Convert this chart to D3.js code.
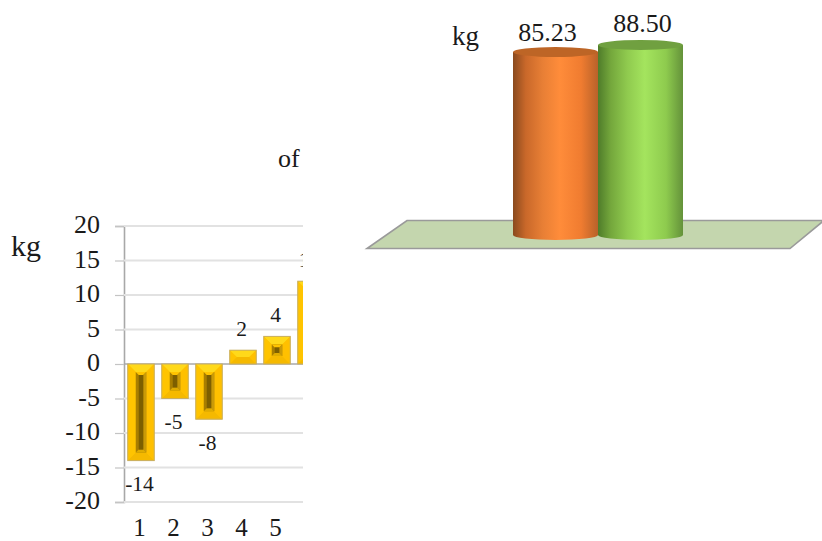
<!DOCTYPE html>
<html>
<head>
<meta charset="utf-8">
<script src="https://cdn.jsdelivr.net/npm/d3@7/dist/d3.min.js"></script>
<style>
html, body { margin: 0; padding: 0; background: #fff; }
svg { display: block; }
text { font-family: "Liberation Serif", "Times New Roman", serif; fill: #1a1a1a; }
</style>
</head>
<body>
<svg id="chart" width="822" height="541"></svg>
<script>
// Weight change per subject (kg)
const subjects = ["1", "2", "3", "4", "5", "6"];
const changes = [-14, -5, -8, 2, 4, 12];
const changeTicks = [-20, -15, -10, -5, 0, 5, 10, 15, 20];

// Mean weight per group (kg)
const groups = ["Before", "After"];
const means = [85.23, 88.5];

const svg = d3.select("#chart");
const defs = svg.append("defs");

// ---------- Bevelled bar chart, cut off at its right edge ----------
defs.append("clipPath").attr("id", "panelClip")
  .append("rect").attr("x", 0).attr("y", 200).attr("width", 303).attr("height", 341);

const y = d3.scaleLinear().domain([-20, 20]).range([502, 226]);
const x = d3.scaleBand().domain(subjects)
  .range([124, 124 + 34 * subjects.length])
  .paddingInner(0.22).paddingOuter(0.11);

const panel = svg.append("g").attr("clip-path", "url(#panelClip)");

const yAxis = d3.axisLeft(y).tickValues(changeTicks).tickSize(9).tickPadding(6).tickFormat(d => String(d));
const yG = panel.append("g").attr("transform", "translate(124,0)").call(yAxis);
yG.select(".domain").attr("stroke", "#a8a8a8").attr("stroke-width", 1.6);
yG.selectAll(".tick line").attr("stroke", "#c4c4c4").attr("stroke-width", 1.2);
yG.selectAll(".tick text").attr("font-size", 26).attr("fill", "#1a1a1a")
  .attr("font-family", '"Liberation Serif", serif').attr("x", -24).attr("y", -1.5);

panel.append("g").selectAll("line").data(changeTicks).join("line")
  .attr("x1", 124).attr("x2", 303)
  .attr("y1", d => y(d)).attr("y2", d => y(d))
  .attr("stroke", d => d === 0 ? "#a8a8a8" : "#e2e2e2")
  .attr("stroke-width", d => d === 0 ? 1.6 : 1.8);

const xAxis = d3.axisBottom(x).tickSize(0).tickPadding(0);
const xG = panel.append("g").attr("transform", "translate(-1.5,517)").call(xAxis);
xG.select(".domain").remove();
xG.selectAll(".tick text").attr("font-size", 25).attr("fill", "#1a1a1a")
  .attr("font-family", '"Liberation Serif", serif').attr("dy", "0.75em");

const poly = pts => pts.map(p => p.join(",")).join(" ");

const bars = panel.append("g").selectAll("g").data(subjects).join("g")
  .each(function (s, i) {
    const v = changes[i];
    const g = d3.select(this);
    const x0 = x(s), x1 = x0 + x.bandwidth();
    const top = Math.min(y(v), y(0)), bot = Math.max(y(v), y(0));
    const h = bot - top;
    const inset = Math.min(8, h / 2);
    const ix0 = x0 + inset, ix1 = x1 - inset, it = top + inset, ib = bot - inset;

    g.append("rect").attr("x", x0).attr("y", top).attr("width", x1 - x0).attr("height", h).attr("fill", "#ffc400");
    // outer bevel faces
    g.append("polygon").attr("points", poly([[x0, top], [x1, top], [ix1, it], [ix0, it]])).attr("fill", "#ffd91a");
    g.append("polygon").attr("points", poly([[x0, bot], [x1, bot], [ix1, ib], [ix0, ib]])).attr("fill", "#f5b900");
    g.append("polygon").attr("points", poly([[x0, top], [ix0, it], [ix0, ib], [x0, bot]])).attr("fill", "#ffc400");
    g.append("polygon").attr("points", poly([[x1, top], [ix1, it], [ix1, ib], [x1, bot]])).attr("fill", "#ffc000");
    g.append("rect").attr("x", x0).attr("y", top).attr("width", x1 - x0).attr("height", h)
      .attr("fill", "none").attr("stroke", "#c8ae62").attr("stroke-width", 1);

    // sunken centre of the bevel
    if (ib - it > 4) {
      const cInset = Math.min(3, (ib - it) / 3);
      g.append("rect").attr("x", ix0).attr("y", it).attr("width", ix1 - ix0).attr("height", ib - it).attr("fill", "#a87e00");
      g.append("polygon").attr("points", poly([[ix0, it], [ix1, it], [ix1 - cInset, it + cInset], [ix0 + cInset, it + cInset]])).attr("fill", "#ffc400");
      g.append("polygon").attr("points", poly([[ix1, it], [ix1, ib], [ix1 - cInset, ib - cInset], [ix1 - cInset, it + cInset]])).attr("fill", "#c99a08");
      g.append("polygon").attr("points", poly([[ix0, ib], [ix1, ib], [ix1 - cInset, ib - cInset], [ix0 + cInset, ib - cInset]])).attr("fill", "#e0ac00");
      g.append("rect").attr("x", ix0 + cInset).attr("y", it + cInset)
        .attr("width", ix1 - ix0 - 2 * cInset).attr("height", Math.max(ib - it - 2 * cInset, 0)).attr("fill", "#7d5f00");
    }

    // value label above or below the bar
    g.append("text")
      .attr("x", (x0 + x1) / 2 - 1.5)
      .attr("y", v < 0 ? bot + 30.5 : top - 14)
      .attr("text-anchor", "middle").attr("font-size", 21.5)
      .text(v);
  });

svg.append("text").attr("x", 11).attr("y", 256).attr("font-size", 30).text("kg");
svg.append("text").attr("x", 278).attr("y", 167).attr("font-size", 26).text("of");

// ---------- Cylinder chart on a floor plane ----------
const h = d3.scaleLinear().domain([0, 100]).range([235, 20.3]);
const cx = d3.scaleBand().domain(groups).range([513, 683]).padding(0);

svg.append("polygon")
  .attr("points", poly([[407, 220.5], [824, 220.5], [790, 248.5], [367, 248.5]]))
  .attr("fill", "#c4d6ae").attr("stroke", "#9a9a9a").attr("stroke-width", 1.6);

const shades = [
  { side: ["#8a4a1e", "#c9682a", "#e87f35", "#ff8c3a", "#f07c30", "#b8622a"], cap: "#bd6526" },
  { side: ["#4f7c2a", "#74a73c", "#90cb4f", "#a4e45e", "#8ecb4e", "#64923a"], cap: "#70a040" }
];
const stops = [0, 0.15, 0.35, 0.55, 0.8, 1];

shades.forEach((c, i) => {
  const grad = defs.append("linearGradient").attr("id", "cyl" + i);
  stops.forEach((o, j) => grad.append("stop").attr("offset", o).attr("stop-color", c.side[j]));
});

const labelShift = [-8, 2];
const labelGap = [11, 13];
const ry = 5;

const cyl = svg.append("g").selectAll("g").data(groups).join("g")
  .each(function (k, i) {
    const g = d3.select(this);
    const x0 = cx(k), w = cx.bandwidth(), rx = w / 2, xc = x0 + rx;
    const t = h(means[i]), b = h(0);
    g.append("path")
      .attr("d", `M${x0},${t}V${b}A${rx},${ry} 0 0 0 ${x0 + w},${b}V${t}Z`)
      .attr("fill", `url(#cyl${i})`);
    g.append("ellipse").attr("cx", xc).attr("cy", t).attr("rx", rx).attr("ry", ry).attr("fill", shades[i].cap);
    g.append("text")
      .attr("x", xc + labelShift[i]).attr("y", t - labelGap[i])
      .attr("text-anchor", "middle").attr("font-size", 26)
      .text(d3.format(".2f")(means[i]));
  });

svg.append("text").attr("x", 452).attr("y", 45).attr("font-size", 27).text("kg");
</script>
</body>
</html>
